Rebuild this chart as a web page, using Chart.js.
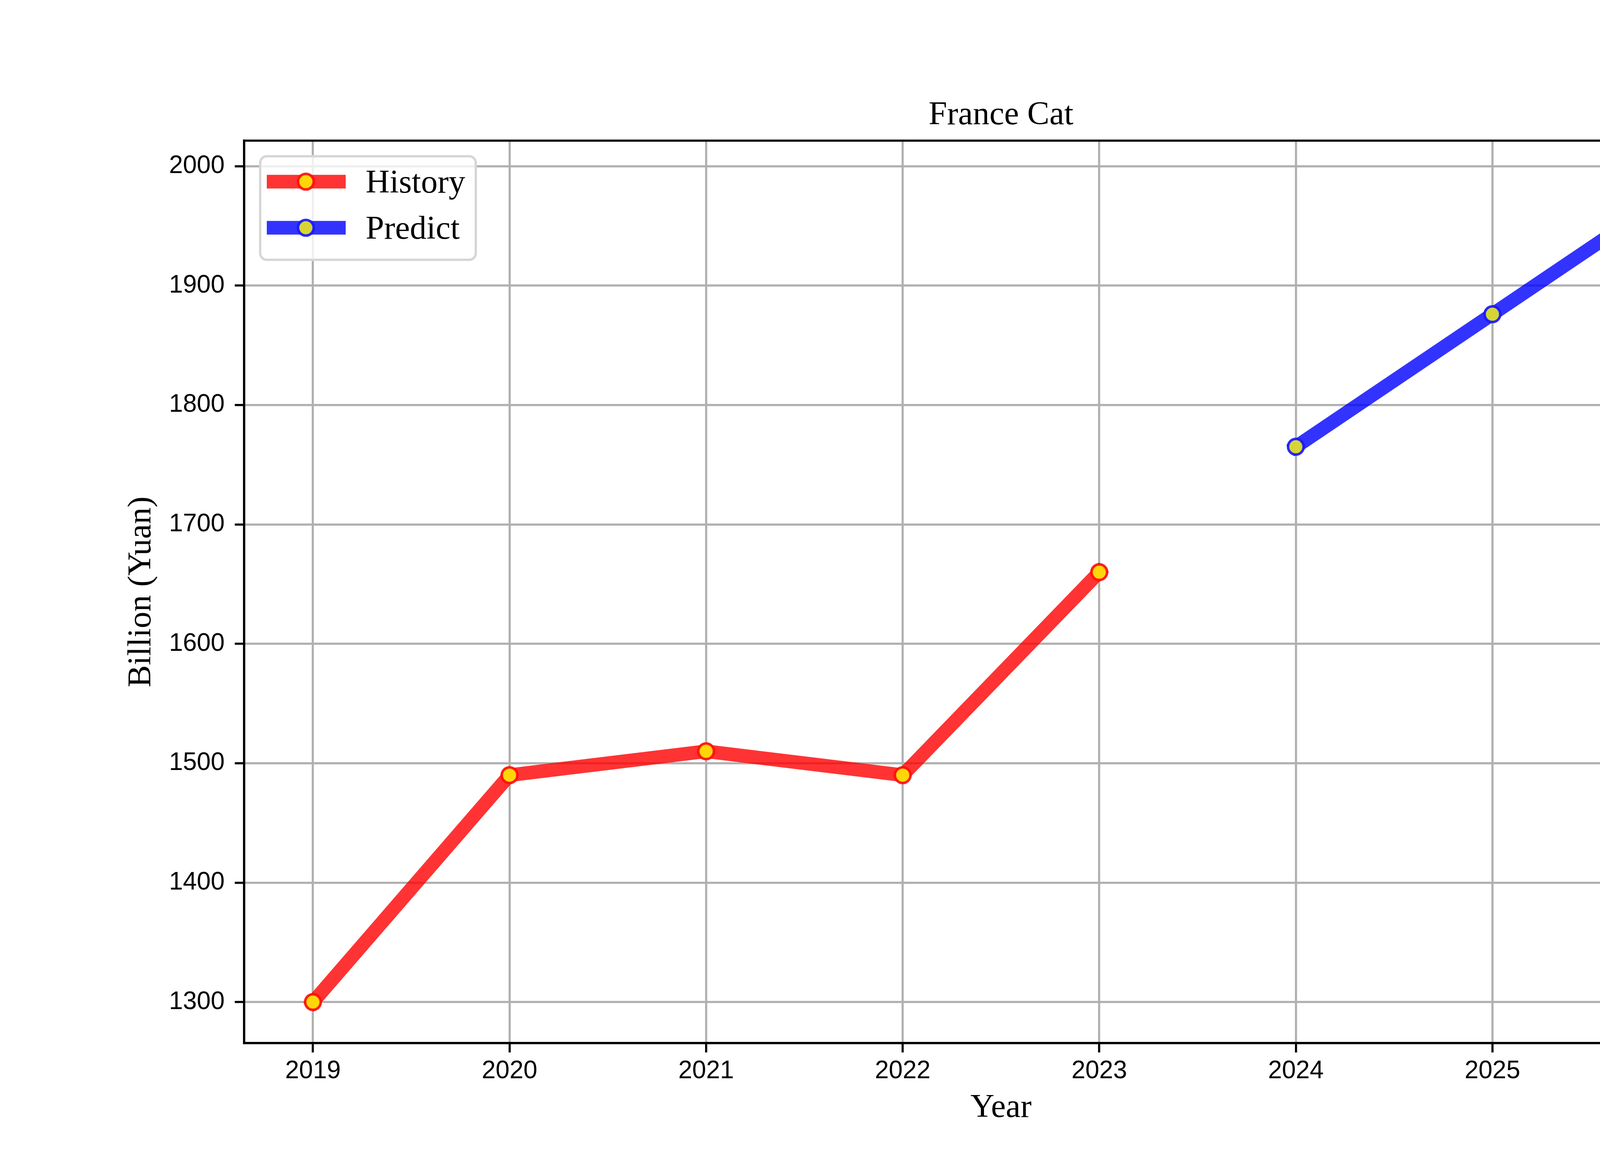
<!DOCTYPE html>
<html>
<head>
<meta charset="utf-8">
<script src="https://cdn.jsdelivr.net/npm/chart.js@4.4.1/dist/chart.umd.min.js"></script>
<style>
    html, body { margin: 0; padding: 0; background: #fff; overflow: hidden; }
    #myChart { display: block; width: 100vw; height: 100vh; }
</style>
</head>
<body>
<canvas id="myChart" width="5000" height="3000"></canvas>
<script>
// values
const years = [2019, 2020, 2021, 2022, 2023, 2024, 2025, 2026];
const historyYears = [2019, 2020, 2021, 2022, 2023];
const historyValues = [1300, 1490, 1510, 1490, 1660];
const predictYears = [2024, 2025, 2026];
const predictValues = [1765, 1876, 1987];
const yTicks = [1300, 1400, 1500, 1600, 1700, 1800, 1900, 2000];

const allValues = historyValues.concat(predictValues);
const yLo = Math.min(...allValues), yHi = Math.max(...allValues);
const yPad = (yHi - yLo) * 0.05;
const xLo = Math.min(...years), xHi = Math.max(...years);
const xPad = (xHi - xLo) * 0.05;

const serif = 'Liberation Serif, Times New Roman, serif';
const sans = 'Liberation Sans, Arial, sans-serif';

// frame, title and matplotlib style legend
const decorations = {
    id: 'decorations',
    afterDatasetsDraw(chart) {
        const ctx = chart.ctx, a = chart.chartArea;
        ctx.save();
        ctx.strokeStyle = '#000';
        ctx.lineWidth = 5.5;
        ctx.strokeRect(a.left, a.top, a.right - a.left, a.bottom - a.top);
        ctx.restore();
    },
    afterDraw(chart) {
        const ctx = chart.ctx, a = chart.chartArea;
        ctx.save();
        ctx.fillStyle = '#000';
        ctx.font = '85px ' + serif;
        ctx.textAlign = 'center';
        ctx.textBaseline = 'alphabetic';
        ctx.fillText('France Cat', (a.left + a.right) / 2, a.top - 42);

        const lx = a.left + 41, ly = a.top + 40, lw = 552, lh = 265;
        ctx.beginPath();
        ctx.roundRect(lx, ly, lw, lh, 17);
        ctx.fillStyle = 'rgba(255,255,255,0.8)';
        ctx.fill();
        ctx.strokeStyle = '#d6d6d6';
        ctx.lineWidth = 6;
        ctx.stroke();

        chart.data.datasets.forEach((ds, i) => {
            const rowY = ly + 65 + i * 118;
            ctx.beginPath();
            ctx.moveTo(lx + 17, rowY);
            ctx.lineTo(lx + 219, rowY);
            ctx.strokeStyle = ds.borderColor;
            ctx.lineWidth = ds.borderWidth;
            ctx.lineCap = 'butt';
            ctx.stroke();
            ctx.beginPath();
            ctx.arc(lx + 117, rowY, ds.pointRadius, 0, Math.PI * 2);
            ctx.fillStyle = ds.pointBackgroundColor;
            ctx.fill();
            ctx.strokeStyle = ds.pointBorderColor;
            ctx.lineWidth = ds.pointBorderWidth;
            ctx.stroke();
            ctx.fillStyle = '#000';
            ctx.font = '85px ' + serif;
            ctx.textAlign = 'left';
            ctx.fillText(ds.label, lx + 270, rowY + 28);
        });
        ctx.restore();
    }
};

const ctx = document.getElementById('myChart');

const myChart = new Chart(ctx, {
    type: 'line',
    data: {
        datasets: [{
            label: 'History',
            data: historyYears.map((x, i) => ({ x: x, y: historyValues[i] })),
            borderColor: 'rgba(255, 0, 0, 0.8)',
            borderWidth: 35,
            borderCapStyle: 'square',
            borderJoinStyle: 'round',
            pointRadius: 20,
            pointBorderWidth: 6.5,
            pointBackgroundColor: '#ffd60a',
            pointBorderColor: 'rgba(255, 10, 10, 0.9)',
            tension: 0
        }, {
            label: 'Predict',
            data: predictYears.map((x, i) => ({ x: x, y: predictValues[i] })),
            borderColor: 'rgba(0, 0, 255, 0.8)',
            borderWidth: 35,
            borderCapStyle: 'square',
            borderJoinStyle: 'round',
            pointRadius: 20,
            pointBorderWidth: 6.5,
            pointBackgroundColor: '#d6d536',
            pointBorderColor: 'rgba(20, 20, 255, 0.9)',
            tension: 0
        }]
    },
    options: {
        responsive: false,
        devicePixelRatio: 1,
        animation: false,
        layout: {
            padding: { left: 0, right: 500, top: 360, bottom: 0 }
        },
        scales: {
            x: {
                type: 'linear',
                position: 'bottom',
                min: xLo - xPad,
                max: xHi + xPad,
                afterFit(scale) { scale.height = 330; },
                afterBuildTicks(scale) { scale.ticks = years.map(v => ({ value: v })); },
                ticks: {
                    callback: v => String(v),
                    font: { family: sans, size: 64, lineHeight: 1 },
                    color: '#000',
                    padding: 16,
                    maxRotation: 0,
                    autoSkip: false
                },
                grid: {
                    color: '#b0b0b0',
                    lineWidth: 5.5,
                    tickColor: '#000',
                    tickWidth: 5.5,
                    tickLength: 24
                },
                border: { color: '#000', width: 5.5 },
                title: {
                    display: true,
                    text: 'Year',
                    color: '#000',
                    font: { family: serif, size: 85, lineHeight: 1 },
                    padding: { top: 0, bottom: 121 }
                }
            },
            y: {
                type: 'linear',
                min: yLo - yPad,
                max: yHi + yPad,
                afterFit(scale) { scale.width = 625; },
                afterBuildTicks(scale) { scale.ticks = yTicks.map(v => ({ value: v })); },
                ticks: {
                    callback: v => String(v),
                    font: { family: sans, size: 64 },
                    color: '#000',
                    padding: 26
                },
                grid: {
                    color: '#b0b0b0',
                    lineWidth: 5.5,
                    tickColor: '#000',
                    tickWidth: 5.5,
                    tickLength: 24
                },
                border: { color: '#000', width: 5.5 },
                title: {
                    display: true,
                    text: 'Billion (Yuan)',
                    color: '#000',
                    font: { family: serif, size: 85, lineHeight: 1 },
                    padding: { top: 320, bottom: 0 }
                }
            }
        },
        plugins: {
            legend: { display: false },
            title: { display: false },
            tooltip: { enabled: false }
        }
    },
    plugins: [decorations]
});
</script>
</body>
</html>
